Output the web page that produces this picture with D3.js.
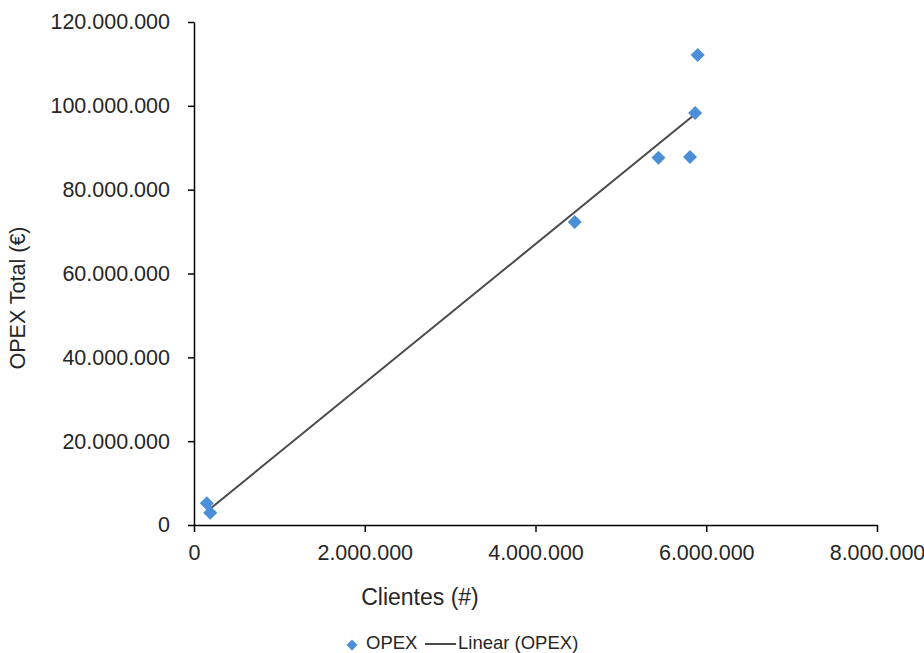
<!DOCTYPE html>
<html>
<head>
<meta charset="utf-8">
<script src="https://cdn.jsdelivr.net/npm/d3@7"></script>
<style>
  html, body { margin: 0; padding: 0; background: #fff; }
  svg { display: block; font-family: "Liberation Sans", Arial, sans-serif; }
</style>
</head>
<body>
<svg id="chart" width="924" height="653"></svg>
<script>
// Clients per operator and total OPEX (EUR)
const clientes = [150000, 190000, 4460000, 5440000, 5810000, 5870000, 5900000];
const opex = [5200000, 2900000, 72300000, 87600000, 87800000, 98300000, 112100000];
const xTicks = [0, 2000000, 4000000, 6000000, 8000000];
const yTicks = [0, 20000000, 40000000, 60000000, 80000000, 100000000, 120000000];
const xTitle = "Clientes (#)";
const yTitle = "OPEX Total (€)";
const legendLabels = ["OPEX", "Linear (OPEX)"];

const locale = d3.formatLocale({ decimal: ",", thousands: ".", grouping: [3], currency: ["", "€"] });
const fmt = locale.format(",");

const svg = d3.select("#chart");
const x = d3.scaleLinear().domain([0, 8000000]).range([194, 877]);
const y = d3.scaleLinear().domain([0, 120000000]).range([525, 22]);

const blue = "#4a8fd8";
const textColor = "#262626";

// Y axis
const yAxis = svg.append("g")
  .attr("transform", `translate(${x(0)},0)`)
  .call(d3.axisLeft(y).tickValues(yTicks).tickFormat(fmt).tickSize(6).tickSizeOuter(0).tickPadding(18));
// X axis
const xAxis = svg.append("g")
  .attr("transform", `translate(0,${y(0)})`)
  .call(d3.axisBottom(x).tickValues(xTicks).tickFormat(fmt).tickSize(7).tickSizeOuter(0).tickPadding(13));

[xAxis, yAxis].forEach(g => {
  g.selectAll("path.domain").attr("stroke", "#000").attr("stroke-width", 1.5);
  g.selectAll(".tick line").attr("stroke", "#000").attr("stroke-width", 1.5);
  g.selectAll(".tick text")
    .attr("fill", textColor)
    .style("font-size", "21.5px")
    .style("font-family", "'Liberation Sans', Arial, sans-serif");
});

// Least-squares trendline over the data range
const n = clientes.length;
const mx = d3.mean(clientes), my = d3.mean(opex);
let sxy = 0, sxx = 0;
for (let i = 0; i < n; i++) {
  sxy += (clientes[i] - mx) * (opex[i] - my);
  sxx += (clientes[i] - mx) ** 2;
}
const slope = sxy / sxx;
const intercept = my - slope * mx;
const [x0, x1] = d3.extent(clientes);
svg.append("line")
  .attr("x1", x(x0)).attr("y1", y(intercept + slope * x0))
  .attr("x2", x(x1)).attr("y2", y(intercept + slope * x1))
  .attr("stroke", "#4a4a4a").attr("stroke-width", 2);

// Diamond markers
const diamond = r => `M0,${-r}L${r},0L0,${r}L${-r},0Z`;
svg.append("g").selectAll("path")
  .data(clientes.map((c, i) => [c, opex[i]]))
  .join("path")
  .attr("d", diamond(7))
  .attr("transform", d => `translate(${x(d[0])},${y(d[1])})`)
  .attr("fill", blue);

// Axis titles
svg.append("text")
  .attr("x", 420).attr("y", 605)
  .attr("text-anchor", "middle")
  .attr("fill", textColor)
  .style("font-size", "23px")
  .text(xTitle);

svg.append("text")
  .attr("transform", "translate(25,298) rotate(-90)")
  .attr("text-anchor", "middle")
  .attr("fill", textColor)
  .style("font-size", "21.5px")
  .text(yTitle);

// Legend
const lg = svg.append("g");
lg.append("path").attr("d", diamond(5.5)).attr("transform", "translate(352,645)").attr("fill", blue);
lg.append("text").attr("x", 366).attr("y", 649).attr("fill", textColor).style("font-size", "18.5px").text(legendLabels[0]);
lg.append("line").attr("x1", 425).attr("x2", 456).attr("y1", 644).attr("y2", 644).attr("stroke", "#4a4a4a").attr("stroke-width", 2);
lg.append("text").attr("x", 458).attr("y", 649).attr("fill", textColor).style("font-size", "18.5px").text(legendLabels[1]);
</script>
</body>
</html>
